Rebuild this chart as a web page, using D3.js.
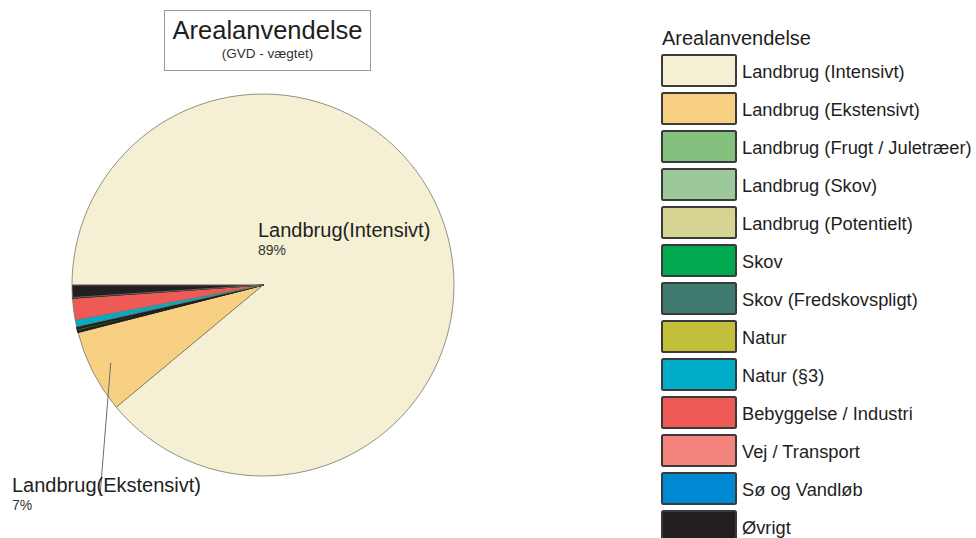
<!DOCTYPE html>
<html>
<head>
<meta charset="utf-8">
<script src="https://cdn.jsdelivr.net/npm/d3@7/dist/d3.min.js"></script>
<style>
  html, body { margin: 0; padding: 0; background: #fff; }
  svg { display: block; font-family: "Liberation Sans", Arial, sans-serif; }
</style>
</head>
<body>
<svg id="chart" width="976" height="538"></svg>
<script>
// Land-use categories (legend order = drawing order, clockwise from 9 o'clock)
const categories = [
  "Landbrug (Intensivt)",
  "Landbrug (Ekstensivt)",
  "Landbrug (Frugt / Juletræer)",
  "Landbrug (Skov)",
  "Landbrug (Potentielt)",
  "Skov",
  "Skov (Fredskovspligt)",
  "Natur",
  "Natur (§3)",
  "Bebyggelse / Industri",
  "Vej / Transport",
  "Sø og Vandløb",
  "Øvrigt"
];
// Share of area in percent (GVD-weighted)
const shares = [88.95, 7.05, 0.05, 0.05, 0.05, 0.15, 0.1, 0.1, 0.55, 1.85, 0.03, 0.02, 1.05];
const colors = [
  "#f5f0d3", "#f8d083", "#84c17f", "#9dc89c", "#d6d493", "#00a94f",
  "#3f7a6e", "#c3bf3b", "#00adc8", "#ee5a55", "#f3857e", "#0089d3", "#231f20"
];
// Slices that carry a text label in the pie
const labelled = [
  { name: "Landbrug(Intensivt)", index: 0 },
  { name: "Landbrug(Ekstensivt)", index: 1 }
];

const svg = d3.select("#chart");
const cx = 263, cy = 285, R = 191;

const data = categories.map((c, i) => ({ name: c, value: shares[i], color: colors[i] }));

const pie = d3.pie()
  .sort(null)
  .value(d => d.value)
  .startAngle(-Math.PI / 2)
  .endAngle(3 * Math.PI / 2);

const arcs = pie(data);
const arc = d3.arc().innerRadius(0).outerRadius(R);

const g = svg.append("g").attr("transform", `translate(${cx},${cy})`);

g.selectAll("path.slice")
  .data(arcs)
  .join("path")
  .attr("class", "slice")
  .attr("d", arc)
  .attr("fill", d => d.data.color)
  .attr("stroke", d => d.data.value < 0.5 ? "#231f20" : "#77766a")
  .attr("stroke-width", d => d.data.value < 0.5 ? 1.2 : 0.8)
  .attr("stroke-linejoin", "round");

// Leader line for the small "Ekstensivt" slice
const ekst = arcs[labelled[1].index];
const leaderArc = d3.arc().innerRadius(171).outerRadius(171);
const [lx, ly] = leaderArc.centroid(ekst);
svg.append("line")
  .attr("x1", cx + lx).attr("y1", cy + ly)
  .attr("x2", 100).attr("y2", 496)
  .attr("stroke", "#6d6d6d")
  .attr("stroke-width", 1);

// Slice labels
const fmtPct = v => Math.round(v) + "%";
svg.append("text").attr("x", 258).attr("y", 237)
  .attr("font-size", 20).attr("fill", "#222")
  .text(labelled[0].name);
svg.append("text").attr("x", 258).attr("y", 255)
  .attr("font-size", 14).attr("fill", "#333")
  .text(fmtPct(shares[labelled[0].index]));
svg.append("text").attr("x", 12).attr("y", 492)
  .attr("font-size", 20).attr("fill", "#222")
  .text(labelled[1].name);
svg.append("text").attr("x", 12).attr("y", 510)
  .attr("font-size", 14).attr("fill", "#333")
  .text(fmtPct(shares[labelled[1].index]));

// Title box
svg.append("rect")
  .attr("x", 164.5).attr("y", 10.5).attr("width", 206).attr("height", 60)
  .attr("fill", "#fff").attr("stroke", "#9a9a9a").attr("stroke-width", 1);
svg.append("text").attr("x", 267.5).attr("y", 39)
  .attr("text-anchor", "middle").attr("font-size", 25.5).attr("fill", "#1e1e1e")
  .text("Arealanvendelse");
svg.append("text").attr("x", 267.5).attr("y", 58)
  .attr("text-anchor", "middle").attr("font-size", 13.5).attr("fill", "#333")
  .text("(GVD - vægtet)");

// Legend
const legend = svg.append("g").attr("transform", "translate(661,54)");
legend.append("text").attr("x", 1).attr("y", -9)
  .attr("font-size", 20).attr("fill", "#1e1e1e")
  .text("Arealanvendelse");

const rowY = d3.scaleBand().domain(categories).range([0, 38 * categories.length]).paddingInner(0);

const rows = legend.selectAll("g.row")
  .data(data)
  .join("g")
  .attr("class", "row")
  .attr("transform", d => `translate(0,${rowY(d.name)})`);

rows.append("rect")
  .attr("x", 1).attr("y", 1).attr("width", 74).attr("height", 31)
  .attr("rx", 1.5)
  .attr("fill", d => d.color)
  .attr("stroke", "#3a3a3a").attr("stroke-width", 2);

rows.append("text")
  .attr("x", 81).attr("y", 23.5)
  .attr("font-size", 18.3).attr("fill", "#1e1e1e")
  .text(d => d.name);
</script>
</body>
</html>
